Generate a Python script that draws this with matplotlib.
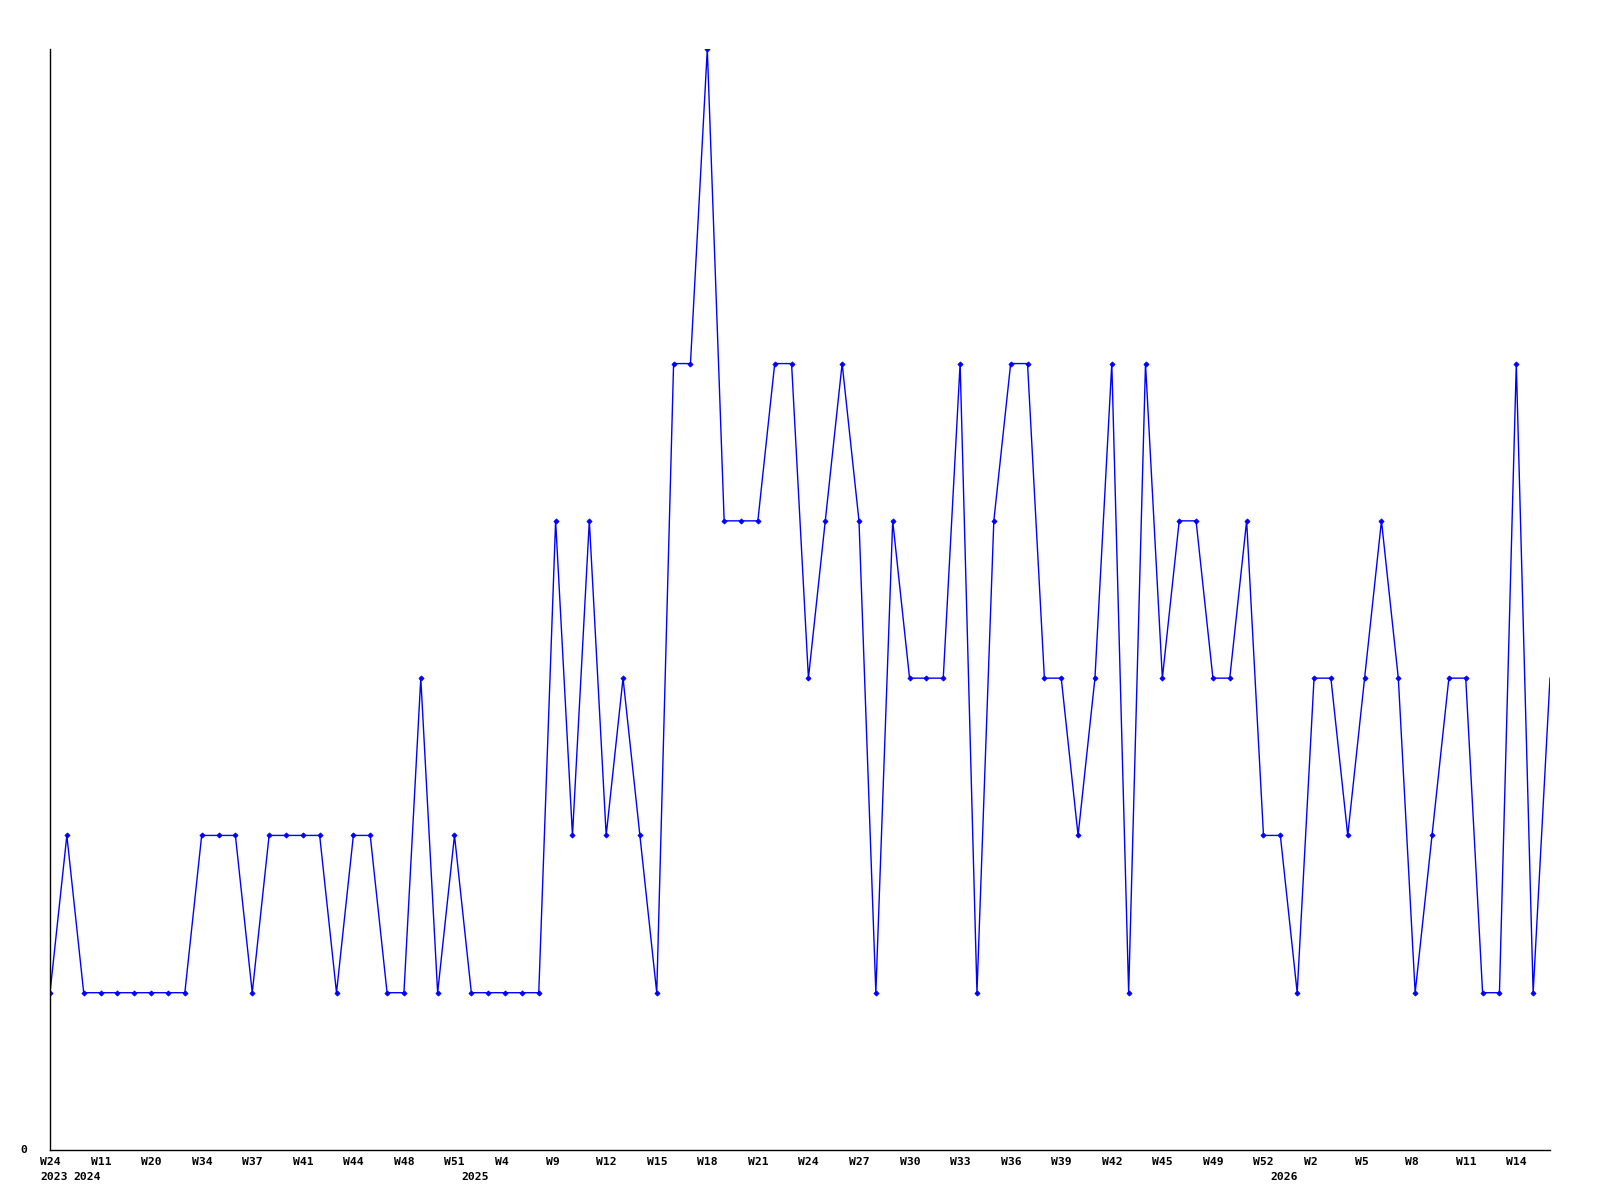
import matplotlib
matplotlib.use("Agg")
import matplotlib.pyplot as plt
from matplotlib.transforms import offset_copy, blended_transform_factory

values = [1, 2, 1, 1, 1, 1, 1, 1, 1, 2, 2, 2, 1, 2, 2, 2, 2, 1, 2, 2,
          1, 1, 3, 1, 2, 1, 1, 1, 1, 1, 4, 2, 4, 2, 3, 2, 1, 5, 5, 7,
          4, 4, 4, 5, 5, 3, 4, 5, 4, 1, 4, 3, 3, 3, 5, 1, 4, 5, 5, 3,
          3, 2, 3, 5, 1, 5, 3, 4, 4, 3, 3, 4, 2, 2, 1, 3, 3, 2, 3, 4,
          3, 1, 2, 3, 3, 1, 1, 5, 1, 3]

week_labels = ["W24", "W11", "W20", "W34", "W37", "W41", "W44", "W48", "W51", "W4",
               "W9", "W12", "W15", "W18", "W21", "W24", "W27", "W30", "W33", "W36",
               "W39", "W42", "W45", "W49", "W52", "W2", "W5", "W8", "W11", "W14"]
week_label_step = 3

year_labels = ["2023", "2024", "2025", "2026"]
year_positions = [0, 2, 25, 73]

fig = plt.figure(figsize=(16, 12), dpi=100)
ax = fig.add_axes([50/1600, 1 - 1150/1200, 1500/1600, 1101/1200])

x = list(range(len(values)))
ax.plot(x, values, color="#0000ff", linewidth=1.0, marker="D", markersize=2.6,
        markevery=list(range(len(values) - 1)), markeredgewidth=0.6)

ax.set_xlim(0, len(values) - 1)
ax.set_ylim(0, 7)
for s in ["top", "right"]:
    ax.spines[s].set_visible(False)
for s in ["left", "bottom"]:
    ax.spines[s].set_color("black")
    ax.spines[s].set_linewidth(1.0)
ax.set_xticks([])
ax.set_yticks([])

font = dict(family="DejaVu Sans Mono", fontsize=8.2, fontweight="bold", color="black")

trans = offset_copy(ax.get_xaxis_transform(), fig=fig, x=-10, y=0, units="dots")
for k, lab in enumerate(week_labels):
    ax.text(k * week_label_step, -0.0108, lab, transform=trans, ha="left", va="center", **font)
for pos, lab in zip(year_positions, year_labels):
    ax.text(pos, -0.0248, lab, transform=trans, ha="left", va="center", **font)

ytrans = offset_copy(blended_transform_factory(ax.transAxes, ax.transData), fig=fig, x=-23, y=0, units="dots")
ax.text(0, 0, "0", transform=ytrans, ha="right", va="center", **font)

fig.savefig("out.png", dpi=100, facecolor="white")
